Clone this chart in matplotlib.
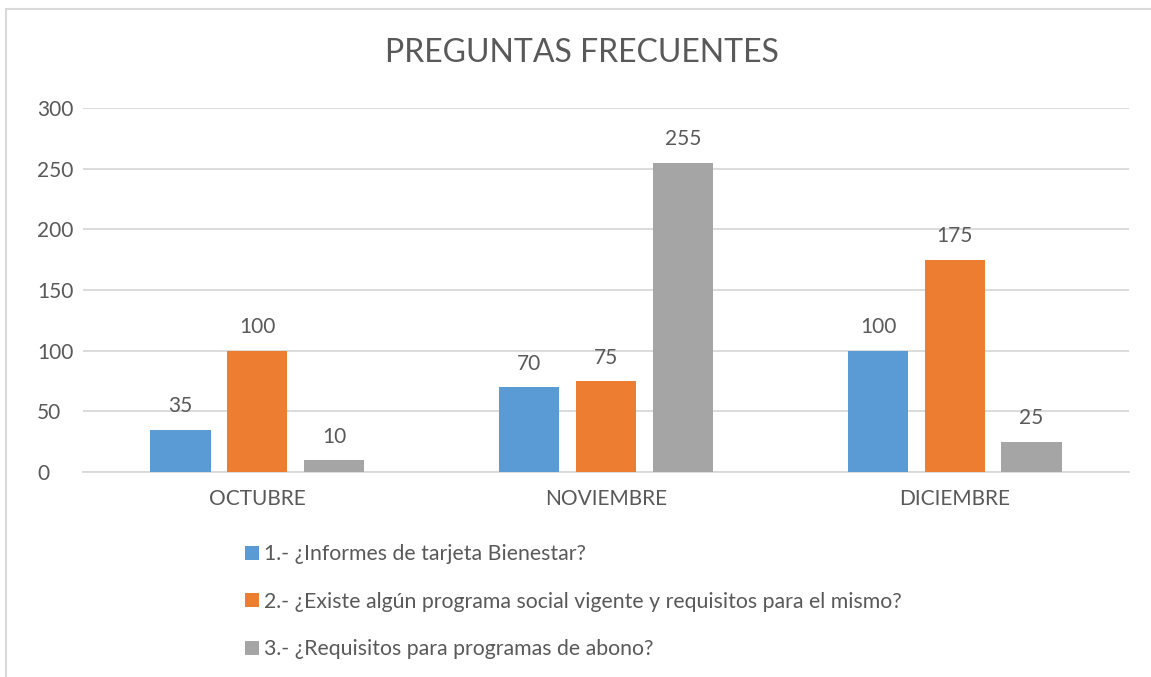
import matplotlib
matplotlib.use("Agg")
from matplotlib import pyplot as plt
from matplotlib.patches import Rectangle
import numpy as np

#~~~~~~~~~~~~~~~~~~~~~~~~~~~~~~~~~~~~~~~~~~~~~~~~~~~~~~~
# data
#~~~~~~~~~~~~~~~~~~~~~~~~~~~~~~~~~~~~~~~~~~~~~~~~~~~~~~~
months = ["OCTUBRE", "NOVIEMBRE", "DICIEMBRE"]
series_names = [
    "1.- ¿Informes de tarjeta Bienestar?",
    "2.- ¿Existe algún programa social vigente y requisitos para el mismo?",
    "3.- ¿Requisitos para programas de abono?",
]
informes = [35, 70, 100]
programa = [100, 75, 175]
requisitos = [10, 255, 25]
y_ticks = [0, 50, 100, 150, 200, 250, 300]

colors = ["#5B9BD5", "#ED7D31", "#A5A5A5"]
txt = "#595959"

plt.rcParams['font.family'] = ['Lato', 'DejaVu Sans']

W, H = 1151, 677
fig = plt.figure(figsize=(W / 100, H / 100), dpi=100)
ax = fig.add_axes([83 / W, 1 - 472 / H, (1129 - 83) / W, (472 - 108) / H])

x = np.arange(len(months))
bw = 0.173
offs = [-0.22, 0.0, 0.22]
for vals, c, name, o in zip([informes, programa, requisitos], colors, series_names, offs):
    bars = ax.bar(x + o, vals, bw, color=c, label=name, zorder=3)
    for b, v in zip(bars, vals):
        ax.text(b.get_x() + b.get_width() / 2, v + 11, str(v), ha="center", va="bottom",
                fontsize=15, color=txt)

ax.set_xlim(-0.5, 2.5)
ax.set_ylim(0, 300)
ax.set_yticks(y_ticks)
ax.set_xticks(x)
ax.set_xticklabels(months)
ax.tick_params(axis="both", length=0, labelsize=15, colors=txt)
ax.tick_params(axis="x", pad=12)
ax.tick_params(axis="y", pad=33)
for lbl in ax.get_yticklabels():
    lbl.set_horizontalalignment("left")
ax.grid(axis="y", color="#D9D9D9", linewidth=1.3, zorder=0)
for s in ["top", "right", "left"]:
    ax.spines[s].set_visible(False)
ax.spines["bottom"].set_color("#D9D9D9")
ax.spines["bottom"].set_linewidth(1.3)

fig.text(582 / W, 1 - 53 / H, "PREGUNTAS FRECUENTES", ha="center", va="center",
         fontsize=23, color=txt)

leg = fig.legend(loc="upper left", bbox_to_anchor=(226 / W, 1 - 525 / H), frameon=False,
                 fontsize=15.3, labelcolor=txt, handlelength=0.65, handleheight=0.65,
                 handletextpad=0.25, labelspacing=1.3)

# outer chart border
fig.patches.append(Rectangle((6 / W, -0.05), 1.1, 1 - 9 / H + 0.05, transform=fig.transFigure,
                             fill=False, edgecolor="#D9D9D9", linewidth=1.5))

fig.savefig("out.png", dpi=100)
